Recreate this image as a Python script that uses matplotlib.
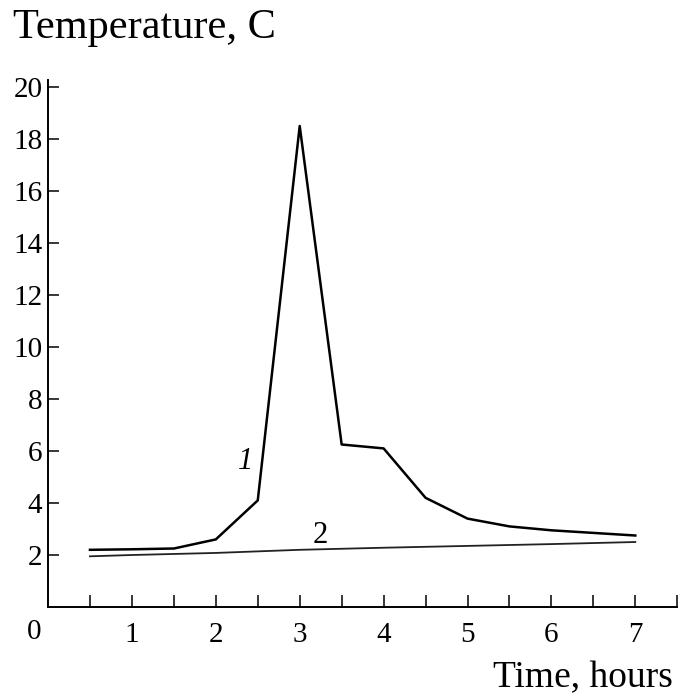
import numpy as np
import matplotlib.pyplot as plt

plt.rcParams['font.family'] = ['Liberation Serif', 'DejaVu Serif']

# curve 1
hours1 = [0.5, 1.0, 1.5, 2.0, 2.5, 3.0, 3.5, 4.0, 4.5, 5.0, 5.5, 6.0, 7.0]
temp1 = [2.2, 2.22, 2.25, 2.6, 4.1, 18.5, 6.25, 6.1, 4.2, 3.4, 3.1, 2.95, 2.75]

# curve 2
hours2 = [0.5, 1.0, 2.0, 3.0, 4.0, 5.0, 6.0, 7.0]
temp2 = [1.95, 2.0, 2.08, 2.2, 2.28, 2.35, 2.42, 2.5]

yticks = [2, 4, 6, 8, 10, 12, 14, 16, 18, 20]
xticks = [1, 2, 3, 4, 5, 6, 7]

fig = plt.figure(figsize=(6.81, 6.99), dpi=100)
ax = fig.add_axes([0.0705, 0.1316, 0.924, 0.754])

ax.plot(hours1, temp1, color='black', lw=1.8)
ax.plot(hours2, temp2, color='#222222', lw=1.3)

ax.text(2.35, 5.6, '1', fontsize=22, style='italic', ha='center', va='center')
ax.text(3.25, 2.75, '2', fontsize=22, ha='center', va='center')

ax.set_xlim(0, 7.5)
ax.set_ylim(0, 20.27)

ax.spines['top'].set_visible(False)
ax.spines['right'].set_visible(False)
ax.spines['left'].set_linewidth(1.4)
ax.spines['bottom'].set_linewidth(1.4)

ax.set_xticks(xticks)
ax.set_xticklabels([str(v) for v in xticks])
ax.set_xticks(np.arange(0.5, 7.6, 1.0), minor=True)
ax.set_yticks(yticks)
ax.set_yticklabels([str(v) for v in yticks])

ax.tick_params(axis='x', which='both', direction='in', length=9, width=1.1, pad=11, labelsize=21)
ax.tick_params(axis='y', direction='in', length=8, width=1.1, pad=4, labelsize=21)

ax.text(-0.16, -0.95, '0', fontsize=21, ha='center', va='center', clip_on=False)

fig.text(0.019, 0.96, 'Temperature, C', fontsize=30.5, ha='left', va='center')
fig.text(0.988, 0.03, 'Time, hours', fontsize=27, ha='right', va='center')

fig.savefig('out.png', dpi=100)
